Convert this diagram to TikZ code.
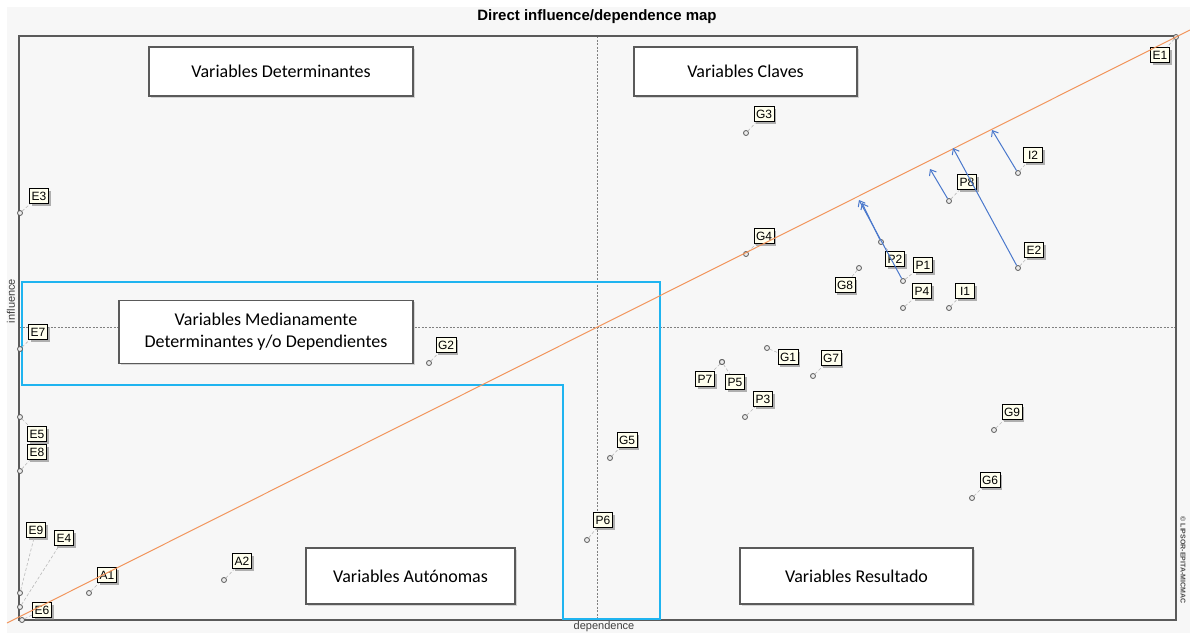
\documentclass[tikz,border=0pt]{standalone}
\usepackage{fontspec}
\setmainfont{Liberation Sans}
\newfontfamily\carl{Carlito}
\usetikzlibrary{arrows.meta,shadows}
\definecolor{mapbg}{HTML}{F7F7F7}
\definecolor{mapaxis}{HTML}{5A5A5A}
\definecolor{quadblue}{HTML}{1FB4F0}
\definecolor{diagorange}{HTML}{F2955C}
\definecolor{shiftblue}{HTML}{4A78CC}
\definecolor{tagfill}{HTML}{FFFFEE}
\tikzset{
  zonebox/.style={draw=mapaxis,fill=white,line width=1.1pt,inner sep=0pt,align=center,
    font=\carl\fontsize{18}{22}\selectfont,
    drop shadow={shadow xshift=1.5pt,shadow yshift=-1.5pt,opacity=.3}},
  vartag/.style={draw=black,fill=tagfill,line width=1pt,inner xsep=2pt,inner ysep=0pt,
    minimum height=15pt,minimum width=19pt,font=\fontsize{12}{12}\selectfont,
    drop shadow={shadow xshift=2pt,shadow yshift=-2pt,fill=gray,opacity=.6}},
  varpt/.style={circle,draw=mapaxis,fill=gray!15,line width=.8pt,inner sep=0pt,minimum size=5pt},
  leader/.style={gray!55,densely dashed,line width=.6pt},
  shiftarrow/.style={shiftblue,line width=1pt,-{Straight Barb[length=5pt,width=8pt]}},
  crossline/.style={gray,dash pattern=on 2pt off 1.5pt,line width=.6pt}
}
\begin{document}
\begin{tikzpicture}[x=1pt,y=-1pt]
  \useasboundingbox (0,0) rectangle (1190,633);
  \fill[white] (0,0) rectangle (1190,633);
  \fill[mapbg] (7,7) rectangle (1190,633);
  \node[font=\bfseries\fontsize{15}{15}\selectfont] (title) at (597,17) {Direct influence/dependence map};
  \draw[crossline] (597,36) -- (597,620);
  \draw[crossline] (19,327) -- (1176,327);
  \draw[mapaxis,line width=1.4pt] (19,36) rectangle (1176,620);
  \node[zonebox,minimum width=264pt,minimum height=49pt] (detbox) at (281,71.5) {Variables Determinantes};
  \node[zonebox,minimum width=223pt,minimum height=49pt] (clavbox) at (745.5,71.5) {Variables Claves};
  \node[zonebox,minimum width=294pt,minimum height=63pt] (medbox) at (266,332) {Variables Medianamente\\Determinantes y/o Dependientes};
  \node[zonebox,minimum width=209pt,minimum height=56pt] (autbox) at (410.5,576) {Variables Autónomas};
  \node[zonebox,minimum width=233pt,minimum height=56pt] (resbox) at (856.5,576) {Variables Resultado};
  \draw[quadblue,line width=2.5pt] (22,282) -- (660,282) -- (660,619) -- (563,619) -- (563,385) -- (22,385) -- cycle;
  \foreach \v/\px/\py/\lx/\ly in {E1/1176/37/1160/55, E3/20/213/39/196, E7/20/349/38/332,
      E5/20/417/37/434, E8/20/471/37/452, E9/20/593/36/530, E4/20/607/64/538, E6/22/620/42/610,
      A1/89/593/107/575, A2/224/580/242/561, G2/429/363/446/345, G5/610/458/627/440,
      P6/587/540/603/520, G3/746/133/764/114, G4/746/254/764/236, I2/1018/173/1033/155,
      P8/949/201/967/182, E2/1018/268/1034/250, P2/881/242/895/259, P1/903/281/923/265,
      G8/859/268/845/285, P4/903/308/922/291, I1/949/308/965/291, G1/767/348/788/357,
      G7/813/376/831/358, P7/722/362/705/379, P5/722/362/735/382, P3/745/417/763/399,
      G9/994/430/1012/412, G6/972/498/990/480}{
    \node[varpt] (p\v) at (\px,\py) {};
    \node[vartag] (l\v) at (\lx,\ly) {\v};
    \draw[leader] (p\v) -- (l\v);
  }
  \coordinate (d0) at (7,623);
  \coordinate (d1) at (1190,30);
  \draw[diagorange,line width=1pt] (d0) -- (d1);
  \coordinate (aE2) at (953,148);
  \coordinate (aI2) at (992,130);
  \coordinate (aP8) at (930,169);
  \coordinate (aP1) at (859,200);
  \coordinate (aP2) at (862,203);
  \foreach \v in {E2,I2,P8,P1,P2}
    \draw[shiftarrow] (p\v) -- (a\v);
  \node[font=\fontsize{11}{11}\selectfont,text=black!75] (deplab) at (604,627) {dependence};
  \node[rotate=90,font=\fontsize{11}{11}\selectfont,text=black!75] (inflab) at (11,301) {influence};
  \node[rotate=-90,font=\bfseries\fontsize{7}{7}\selectfont,text=black!70] (copy) at (1183,560) {\textcopyright{} LIPSOR-EPITA-MICMAC};
\end{tikzpicture}
\end{document}
